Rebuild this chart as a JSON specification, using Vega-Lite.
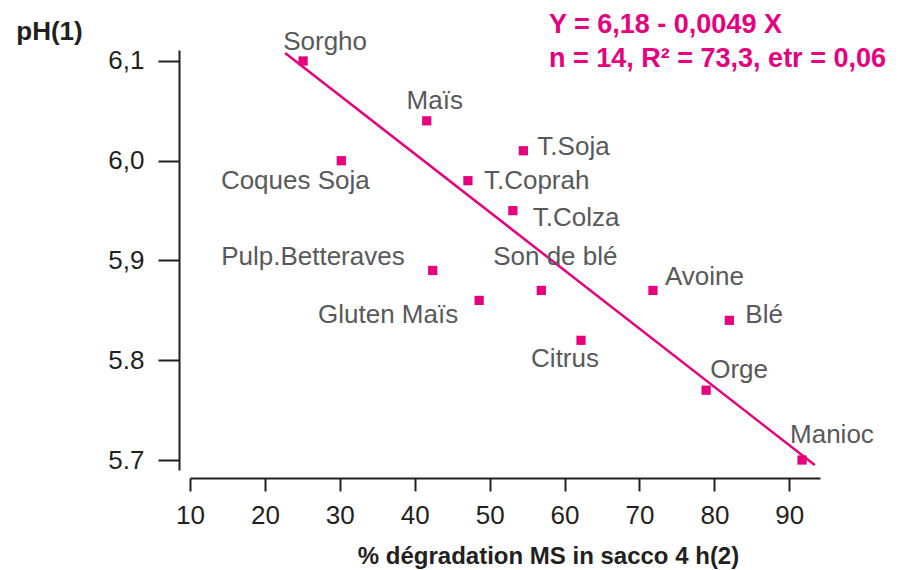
{
  "$schema": "https://vega.github.io/schema/vega-lite/v6.json",
  "width": 630,
  "height": 420,
  "autosize": {"type": "none"},
  "padding": {"left": 190, "top": 50, "right": 83, "bottom": 100},
  "background": "white",
  "config": {
    "view": {"stroke": null},
    "text": {"font": "Liberation Sans", "fontSize": 26, "color": "#58595b", "baseline": "middle"},
    "axis": {"labelFont": "Liberation Sans", "titleFont": "Liberation Sans", "grid": false}
  },
  "title": {
    "text": ["Y = 6,18 - 0,0049 X", "n = 14, R² = 73,3, etr = 0,06"],
    "anchor": "start",
    "align": "left",
    "frame": "group",
    "dx": 359,
    "dy": 55,
    "offset": 0,
    "font": "Liberation Sans",
    "fontSize": 27,
    "fontWeight": "bold",
    "lineHeight": 34,
    "color": "#e6007e"
  },
  "data": {
    "values": [
      {"name": "Sorgho", "x": 25.1, "y": 6.10},
      {"name": "Maïs", "x": 41.6, "y": 6.04},
      {"name": "T.Soja", "x": 54.5, "y": 6.01},
      {"name": "Coques Soja", "x": 30.2, "y": 6.00},
      {"name": "T.Coprah", "x": 47.1, "y": 5.98},
      {"name": "T.Colza", "x": 53.1, "y": 5.95},
      {"name": "Pulp.Betteraves", "x": 42.4, "y": 5.89},
      {"name": "Gluten Maïs", "x": 48.6, "y": 5.86},
      {"name": "Son de blé", "x": 56.9, "y": 5.87},
      {"name": "Avoine", "x": 71.8, "y": 5.87},
      {"name": "Blé", "x": 82.0, "y": 5.84},
      {"name": "Citrus", "x": 62.2, "y": 5.82},
      {"name": "Orge", "x": 78.9, "y": 5.77},
      {"name": "Manioc", "x": 91.7, "y": 5.70}
    ]
  },
  "encoding": {
    "x": {
      "field": "x", "type": "quantitative",
      "scale": {"domain": [10, 94.1], "nice": false, "zero": false},
      "axis": {
        "values": [10, 20, 30, 40, 50, 60, 70, 80, 90],
        "labelFlush": false,
        "offset": 8,
        "tickSize": 13,
        "tickWidth": 2,
        "tickColor": "#231f20",
        "domainColor": "#231f20",
        "domainWidth": 2,
        "labelFontSize": 26,
        "labelColor": "#231f20",
        "labelPadding": 11,
        "title": "% dégradation MS in sacco 4 h(2)",
        "titleFontSize": 24,
        "titleFontWeight": "bold",
        "titleColor": "#231f20",
        "titleX": 358,
        "titleY": 78,
        "titleBaseline": "middle",
        "titleAlign": "center"
      }
    },
    "y": {
      "field": "y", "type": "quantitative",
      "scale": {"domain": [5.69, 6.111], "nice": false, "zero": false},
      "axis": {
        "values": [5.7, 5.8, 5.9, 6.0, 6.1],
        "labelExpr": "datum.value >= 5.85 ? replace(format(datum.value, '.1f'), '.', ',') : format(datum.value, '.1f')",
        "offset": 11,
        "tickSize": 21,
        "tickWidth": 2,
        "tickColor": "#231f20",
        "domainColor": "#231f20",
        "domainWidth": 2,
        "labelFontSize": 26,
        "labelColor": "#231f20",
        "labelPadding": 14,
        "title": "pH(1)",
        "titleAngle": 0,
        "titleFontSize": 26,
        "titleFontWeight": "bold",
        "titleColor": "#231f20",
        "titleX": -130,
        "titleY": -19,
        "titleAlign": "center",
        "titleBaseline": "middle"
      }
    }
  },
  "layer": [
    {
      "data": {"values": [{"x": 22.7, "y": 6.108}, {"x": 93.4, "y": 5.695}]},
      "mark": {"type": "line", "color": "#e6007e", "strokeWidth": 2.5},
      "encoding": {"x": {"field": "x", "type": "quantitative"}, "y": {"field": "y", "type": "quantitative"}}
    },
    {
      "mark": {"type": "square", "size": 85, "color": "#e6007e", "opacity": 1, "filled": true}
    },
    {"transform": [{"filter": "datum.name == 'Sorgho'"}], "mark": {"type": "text", "align": "center", "dx": 22, "dy": -19}, "encoding": {"text": {"field": "name"}}},
    {"transform": [{"filter": "datum.name == 'Maïs'"}], "mark": {"type": "text", "align": "center", "dx": 8, "dy": -20}, "encoding": {"text": {"field": "name"}}},
    {"transform": [{"filter": "datum.name == 'T.Soja'"}], "mark": {"type": "text", "align": "left", "dx": 14, "dy": -4}, "encoding": {"text": {"field": "name"}}},
    {"transform": [{"filter": "datum.name == 'Coques Soja'"}], "mark": {"type": "text", "align": "center", "dx": -46, "dy": 20}, "encoding": {"text": {"field": "name"}}},
    {"transform": [{"filter": "datum.name == 'T.Coprah'"}], "mark": {"type": "text", "align": "left", "dx": 16, "dy": 0}, "encoding": {"text": {"field": "name"}}},
    {"transform": [{"filter": "datum.name == 'T.Colza'"}], "mark": {"type": "text", "align": "left", "dx": 20, "dy": 7}, "encoding": {"text": {"field": "name"}}},
    {"transform": [{"filter": "datum.name == 'Pulp.Betteraves'"}], "mark": {"type": "text", "align": "right", "dx": -28, "dy": -13}, "encoding": {"text": {"field": "name"}}},
    {"transform": [{"filter": "datum.name == 'Gluten Maïs'"}], "mark": {"type": "text", "align": "right", "dx": -21, "dy": 15}, "encoding": {"text": {"field": "name"}}},
    {"transform": [{"filter": "datum.name == 'Son de blé'"}], "mark": {"type": "text", "align": "center", "dx": 14, "dy": -33}, "encoding": {"text": {"field": "name"}}},
    {"transform": [{"filter": "datum.name == 'Avoine'"}], "mark": {"type": "text", "align": "left", "dx": 12, "dy": -13}, "encoding": {"text": {"field": "name"}}},
    {"transform": [{"filter": "datum.name == 'Blé'"}], "mark": {"type": "text", "align": "left", "dx": 16, "dy": -5}, "encoding": {"text": {"field": "name"}}},
    {"transform": [{"filter": "datum.name == 'Citrus'"}], "mark": {"type": "text", "align": "center", "dx": -16, "dy": 19}, "encoding": {"text": {"field": "name"}}},
    {"transform": [{"filter": "datum.name == 'Orge'"}], "mark": {"type": "text", "align": "center", "dx": 33, "dy": -20}, "encoding": {"text": {"field": "name"}}},
    {"transform": [{"filter": "datum.name == 'Manioc'"}], "mark": {"type": "text", "align": "left", "dx": -12, "dy": -25}, "encoding": {"text": {"field": "name"}}}
  ]
}
